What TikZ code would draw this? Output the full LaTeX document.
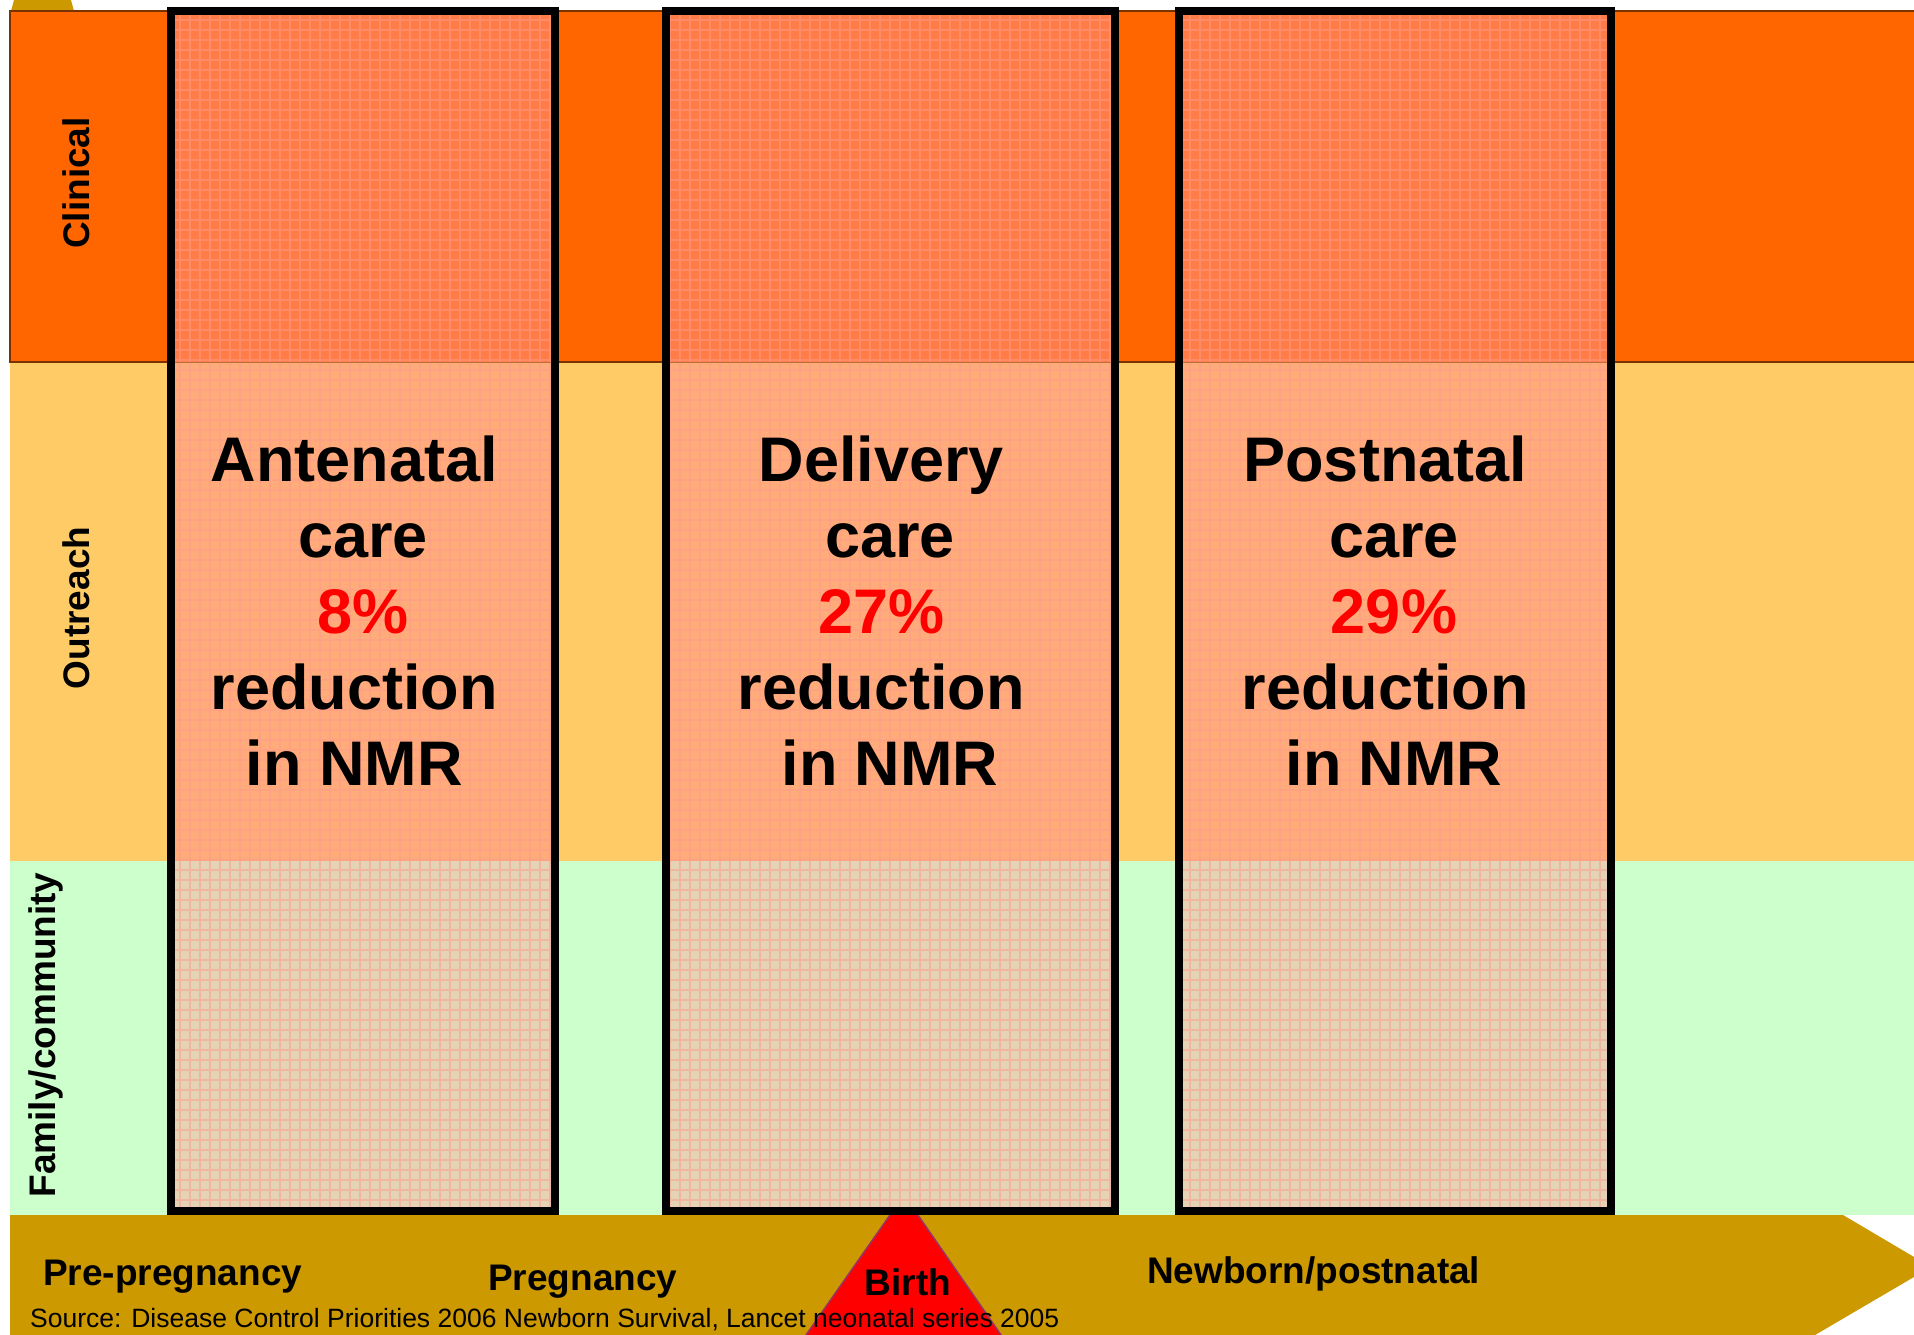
\documentclass[tikz,border=0pt]{standalone}
\usepackage{fontspec}
\setmainfont{Liberation Sans}
\definecolor{clinicalband}{HTML}{FF6600}
\definecolor{outreachband}{HTML}{FFCB66}
\definecolor{communityband}{HTML}{CCFFCC}
\definecolor{timeline}{HTML}{CC9900}
\definecolor{bandedge}{HTML}{7A3300}
\definecolor{boxtop}{HTML}{FF7C46}
\definecolor{boxmid}{HTML}{FFAC7A}
\definecolor{boxlow}{HTML}{E4D3B4}
\definecolor{gridpink}{HTML}{FF9A8C}
\definecolor{birthedge}{HTML}{993366}
\newcommand{\tsp}{\kern17.5pt}
\begin{document}
\begin{tikzpicture}[x=1pt,y=-1pt,
  rowlabel/.style={font=\bfseries\fontsize{37}{42}\selectfont, rotate=90, inner sep=0},
  stage/.style={font=\bfseries\fontsize{37}{42}\selectfont, inner sep=0, anchor=base west},
  caretext/.style={font=\bfseries\fontsize{63}{76}\selectfont, align=center, inner sep=0},
  frame/.style={draw=black, line width=8pt},
  gridlines/.style={draw=gridpink, line width=1.1pt, opacity=0.5},
  source/.style={font=\fontsize{26.5}{30}\selectfont, inner sep=0, anchor=base west}]

\useasboundingbox (0,0) rectangle (1914,1334);
\clip (0,0) rectangle (1914,1334);
\fill[white] (0,0) rectangle (1914,1334);

% tip of the gold marker above the clinical band
\fill[timeline] (11,11) -- (74,11) -- (71,0) -- (14,0) -- cycle;

% the three levels of care
\fill[outreachband] (10,362) rectangle (1914,861);
\fill[communityband] (10,861) rectangle (1914,1215);
\filldraw[fill=clinicalband, draw=bandedge, line width=1.5pt] (10,11) rectangle (1920,362);

% timeline arrow
\fill[timeline] (10,1215) -- (1843,1215) -- (1931,1267) -- (1798,1345) -- (10,1345) -- cycle;

% birth marker
\filldraw[fill=red, draw=birthedge, line width=1.5pt] (904,1195) -- (1008,1345) -- (799,1345) -- cycle;

% care packages
\foreach \l/\r in {167/559, 662/1119, 1175/1615} {
  \fill[boxtop] (\l,7) rectangle (\r,362);
  \fill[boxmid] (\l,362) rectangle (\r,861);
  \fill[boxlow] (\l,861) rectangle (\r,1215);
  \begin{scope}
    \clip (\l,7) rectangle (\r,1215);
    \draw[gridlines] (\l,7) grid[step=10pt] (\r,1215);
  \end{scope}
  \draw[bandedge, line width=1pt, opacity=0.5] (\l,362) -- (\r,362);
  \draw[frame] (\l+4,11) rectangle (\r-4,1211);
}

% row labels
\node[rowlabel] (clin) at (76,183) {Clinical};
\node[rowlabel] (outr) at (76,608) {Outreach};
\node[rowlabel] (fam) at (46,1035) {Family/community};

% package texts
\node[caretext] (ante) at (363,611) {Antenatal\tsp\\care\\\textcolor{red}{8\%}\\reduction\tsp\\in NMR\tsp};
\node[caretext] (deliv) at (890,611) {Delivery\tsp\\care\\\textcolor{red}{27\%}\tsp\\reduction\tsp\\in NMR};
\node[caretext] (post) at (1394,611) {Postnatal\tsp\\care\\\textcolor{red}{29\%}\\reduction\tsp\\in NMR};

% timeline stages
\node[stage] (prepreg) at (43,1285) {Pre-pregnancy};
\node[stage] (preg) at (488,1290) {Pregnancy};
\node[stage, anchor=base] (birth) at (908,1295) {Birth};
\node[stage] (newborn) at (1147,1283) {Newborn/postnatal};

\node[source] (src) at (30,1327) {Source: Disease Control Priorities 2006 Newborn Survival, Lancet neonatal series 2005};
\end{tikzpicture}
\end{document}
